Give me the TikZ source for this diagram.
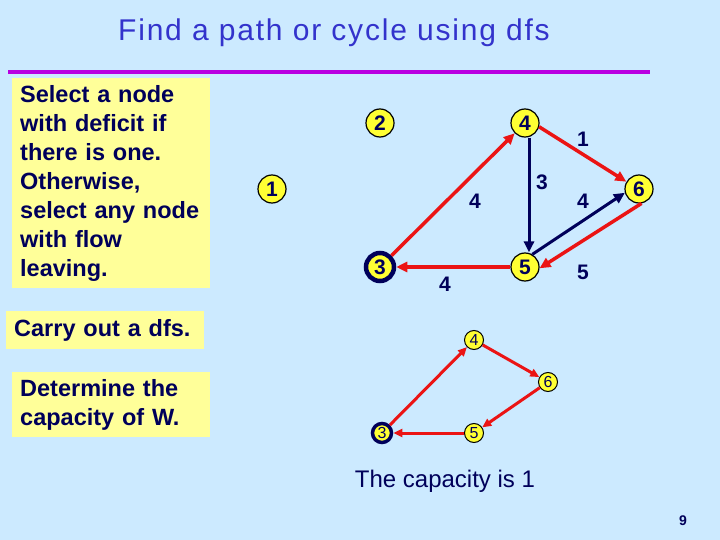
\documentclass[tikz,border=0pt]{standalone}
\usepackage{fontspec}
\setmainfont{Liberation Sans}
\newfontfamily\titlefont[LetterSpace=6]{Liberation Sans}
\usetikzlibrary{arrows.meta,positioning,calc}
\definecolor{slidebg}{RGB}{204,234,255}
\definecolor{navy}{RGB}{0,0,90}
\definecolor{notepad}{RGB}{255,255,153}
\definecolor{nodefill}{RGB}{255,255,51}
\definecolor{titleblue}{RGB}{51,51,204}
\definecolor{rulepurple}{RGB}{185,0,225}
\definecolor{flowred}{RGB}{235,20,20}

\begin{document}
\begin{tikzpicture}[x=1pt,y=-1pt,
    vtx/.style={circle, draw=black, line width=1.2pt, fill=nodefill, minimum size=28pt,
        inner sep=0pt, text=navy, font=\bfseries\fontsize{21}{21}\selectfont},
    svtx/.style={circle, draw=black, line width=1pt, fill=nodefill, minimum size=19pt,
        inner sep=0pt, text=navy, font=\fontsize{16}{16}\selectfont},
    root/.style={draw=navy, line width=4.5pt},
    lbl/.style={text=navy, font=\bfseries\fontsize{21}{21}\selectfont},
    note/.style={fill=notepad, anchor=north west, align=left, inner xsep=8pt,
        text=navy, font=\bfseries\fontsize{23.5}{29}\selectfont},
    redflow/.style={draw=flowred, line width=3.5pt, -{Triangle[length=11pt,width=10pt]}},
    blueflow/.style={draw=navy, line width=3pt, -{Triangle[length=11pt,width=10pt]}},
    redsmall/.style={draw=flowred, line width=3pt, -{Triangle[length=9pt,width=8pt]}}]

    % Background and frame
    \fill[slidebg] (0,0) rectangle (720,540);
    \useasboundingbox (0,0) rectangle (720,540);

    % Title
    \node[text=titleblue, font=\titlefont\fontsize{30}{30}\selectfont] (title) at (334,33) {Find a path or cycle using dfs};
    \draw[rulepurple, line width=4.5pt] (8,72) -- (650,72);

    % Steps on the left
    \node[note, text width=182pt, minimum height=210pt] (stepa) at (12,78)
        {Select a node\\ with deficit if\\ there is one.\\ Otherwise,\\ select any node\\ with flow\\ leaving.};
    \node[note, text width=182pt, minimum height=38pt] (stepb) at (6,311) {Carry out a dfs.};
    \node[note, text width=182pt, minimum height=65pt] (stepc) at (12,372) {Determine the\\ capacity of W.};

    % Network
    \node[vtx] (n1) at (272,189) {1};
    \node[vtx] (n2) at (380,123) {2};
    \node[vtx, root] (n3) at (380,267) {3};
    \node[vtx] (n4) at (525,123) {4};
    \node[vtx] (n5) at (525,267) {5};
    \node[vtx] (n6) at (639,189) {6};

    % Arcs
    \draw[blueflow] ([xshift=4pt]n4.south) -- ([xshift=4pt]n5.north);
    \draw[blueflow] (n5.60) -- (n6.195);
    \draw[redflow] (n3) -- (n4);
    \draw[redflow] (n4.-15) -- (n6.150);
    \draw[redflow] (n6.-80) -- (n5.-5);
    \draw[redflow] (n5) -- (n3);

    % Arc labels
    \node[lbl] (c46) at (583,139) {1};
    \node[lbl] (c45) at (542,182) {3};
    \node[lbl] (c34) at (475,201) {4};
    \node[lbl] (c56) at (583,201) {4};
    \node[lbl] (c53) at (445,284) {4};
    \node[lbl] (c65) at (583,272) {5};

    % The cycle W
    \node[svtx, root, line width=3.5pt] (w3) at (382,433) {3};
    \node[svtx] (w4) at (474,340) {4};
    \node[svtx] (w6) at (548,382) {6};
    \node[svtx] (w5) at (474,433) {5};
    \draw[redsmall] (w3) -- (w4);
    \draw[redsmall] (w4) -- (w6);
    \draw[redsmall] (w6) -- (w5);
    \draw[redsmall] (w5) -- (w3);

    \node[text=navy, font=\fontsize{24}{24}\selectfont] (cap) at (445,481) {The capacity is 1};

    % Page number
    \node[text=navy, font=\bfseries\fontsize{14}{14}\selectfont] (pg) at (683,521) {9};
\end{tikzpicture}
\end{document}
